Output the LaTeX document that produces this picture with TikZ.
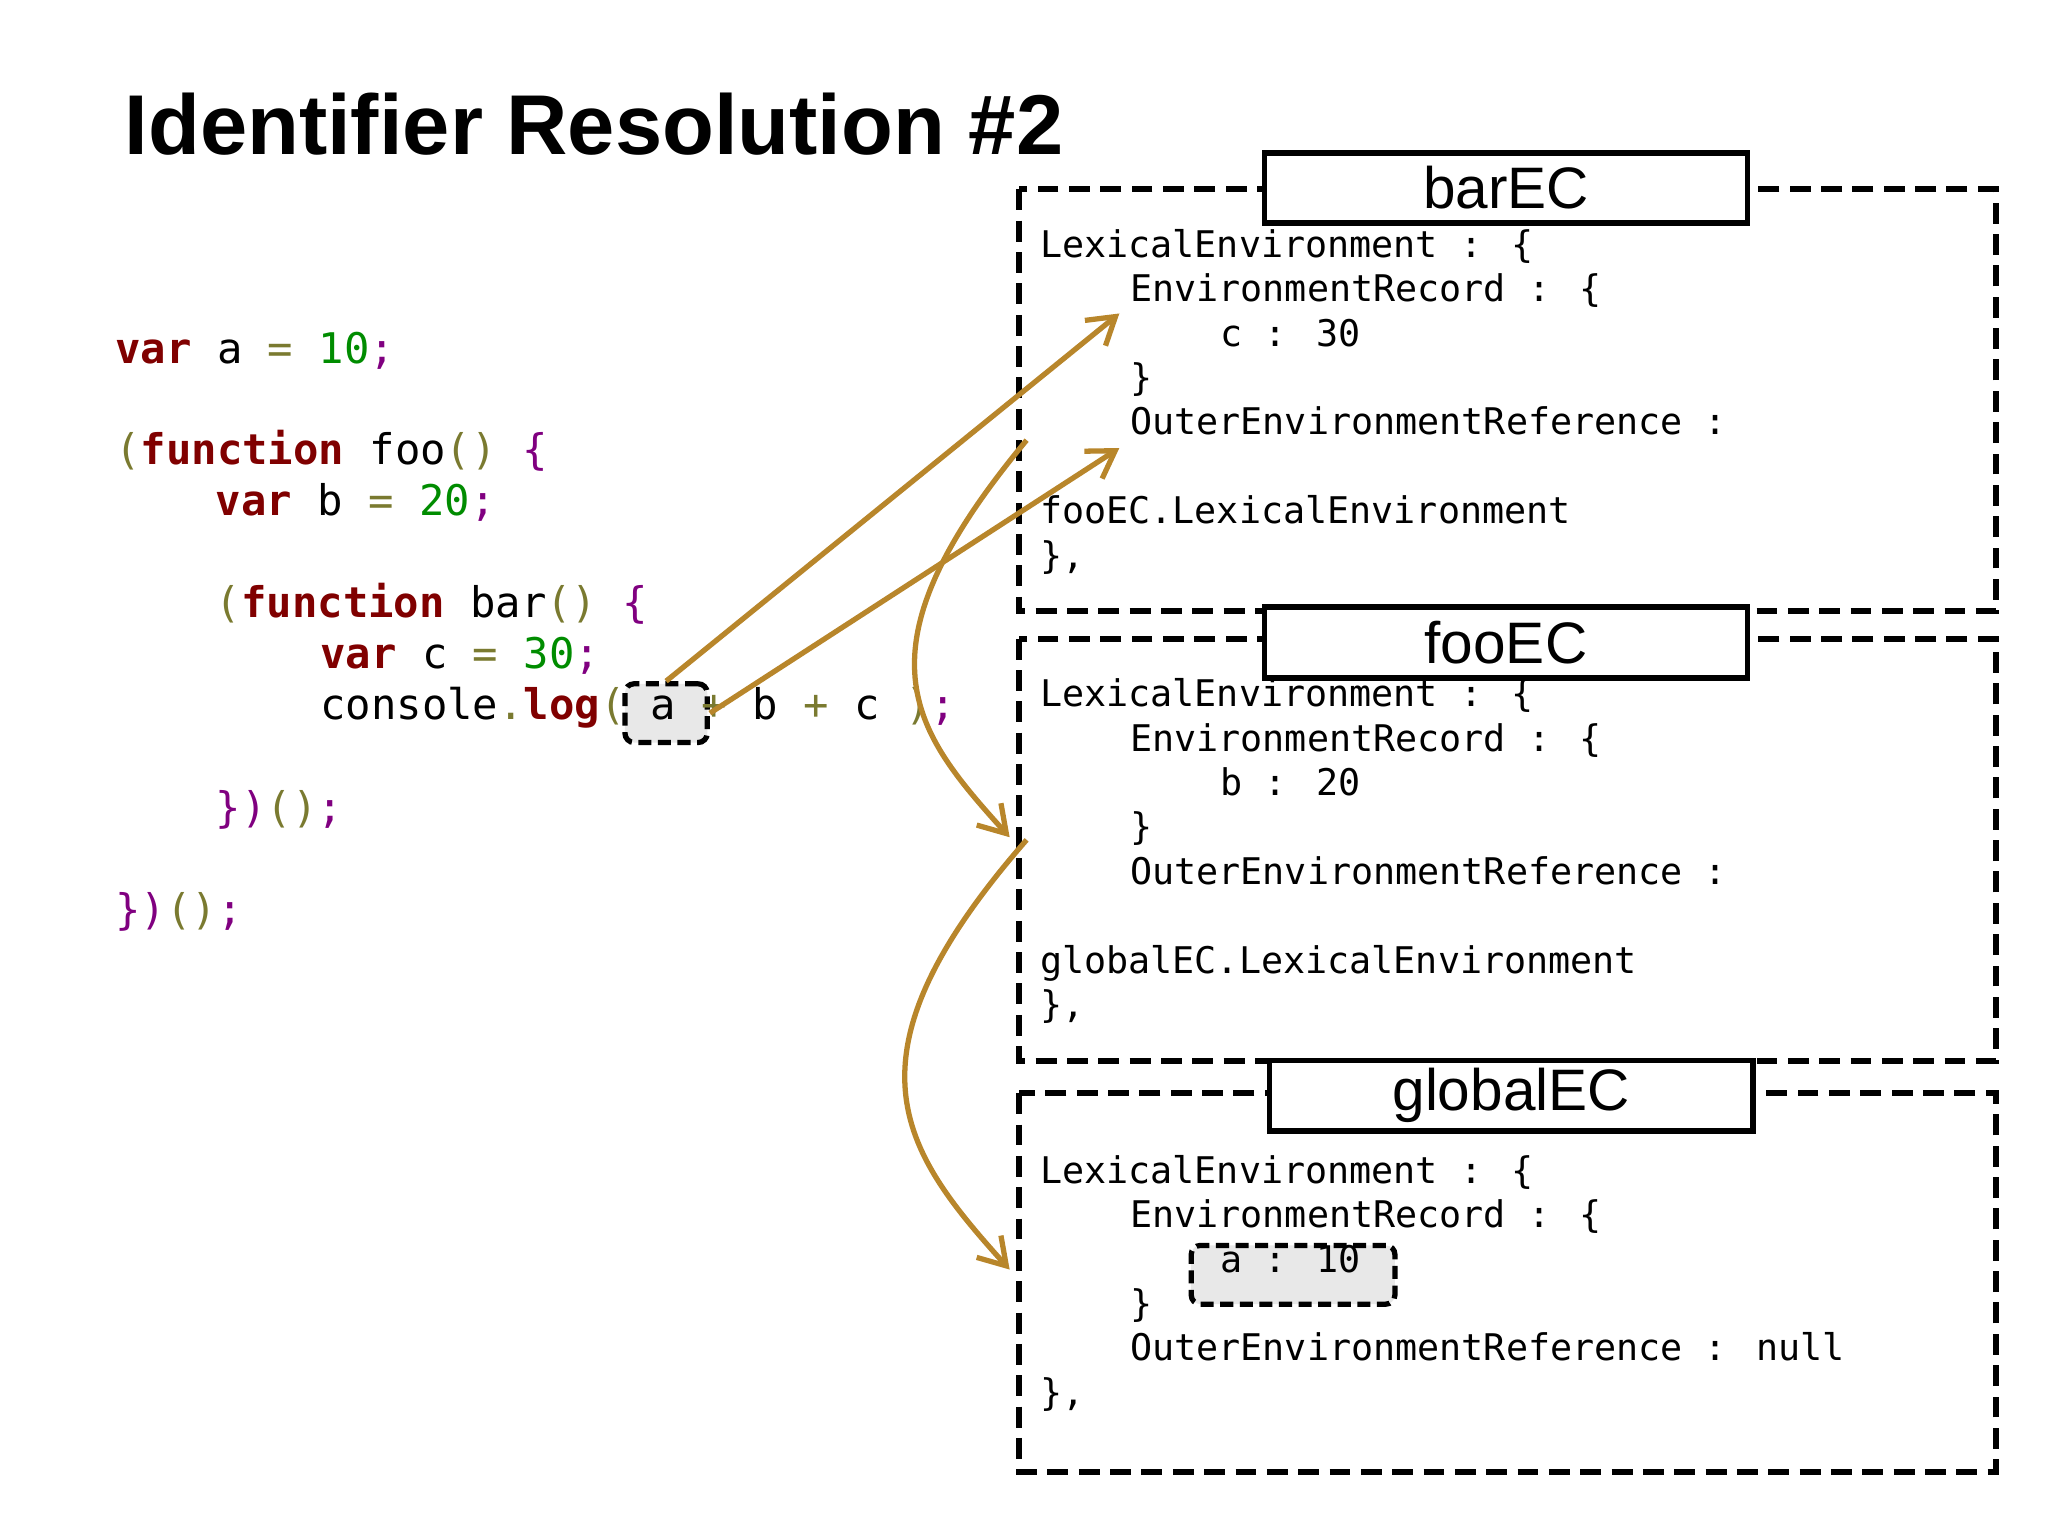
\documentclass[tikz,border=0pt]{standalone}
\usepackage{fontspec}
\setmainfont{Liberation Sans}
\newfontfamily\codefont{DejaVu Sans Mono}
\usetikzlibrary{arrows.meta}
\definecolor{kwc}{HTML}{800000}
\definecolor{numc}{HTML}{008C00}
\definecolor{puc}{HTML}{7A7A30}
\definecolor{brc}{HTML}{800080}
\definecolor{arc}{HTML}{B8862B}
\newcommand{\kw}[1]{\textcolor{kwc}{\bfseries #1}}
\newcommand{\nm}[1]{\textcolor{numc}{#1}}
\newcommand{\pu}[1]{\textcolor{puc}{#1}}
\newcommand{\br}[1]{\textcolor{brc}{#1}}
\begin{document}
\begin{tikzpicture}[x=0.02cm,y=-0.02cm,
  code/.style={anchor=base west,inner sep=0,font=\codefont\fontsize{18.4}{20}\selectfont},
  env/.style={anchor=base west,inner sep=0,font=\codefont\fontsize{16}{18}\selectfont},
  dbox/.style={draw,line width=2.6pt,dash pattern=on 0.32cm off 0.16cm},
  lbl/.style={draw,line width=2.5pt,fill=white,minimum width=7.4cm,minimum height=1.08cm,inner sep=0,font=\fontsize{25.5}{28}\selectfont},
  hl/.style={draw,line width=2.3pt,dash pattern=on 0.2cm off 0.1cm,rounded corners=4pt,fill=gray!18,inner sep=0},
  arr/.style={draw=arc,line width=2.3pt,-{Straight Barb[length=4mm,width=5mm,line width=2.3pt]}}]
\useasboundingbox (0,0) rectangle (1568,1176);
\node[anchor=base west,inner sep=0,font=\bfseries\fontsize{37}{40}\selectfont] (title) at (95,118) {Identifier Resolution \#2};
% highlight boxes
\node[hl,minimum width=1.26cm,minimum height=0.9cm] (abox) at (510,546) {};
\node[hl,minimum width=3.12cm,minimum height=0.9cm] (gbox) at (990,976) {};
% code
\node[code] (c1) at (88,278) {\kw{var} a \pu{=} \nm{10}\br{;}};
\node[code] (c2) at (88,356) {\pu{(}\kw{function} foo\pu{()} \br{\{}};
\node[code] (c3) at (165,395) {\kw{var} b \pu{=} \nm{20}\br{;}};
\node[code] (c4) at (165,473) {\pu{(}\kw{function} bar\pu{()} \br{\{}};
\node[code] (c5) at (245,512) {\kw{var} c \pu{=} \nm{30}\br{;}};
\node[code] (c6) at (245,551) {console\pu{.}\kw{log}\pu{(} a \pu{+} b \pu{+} c \pu{)}\br{;}};
\node[code] (c7) at (165,630) {\br{\})}\pu{()}\br{;}};
\node[code] (c8) at (88,708) {\br{\})}\pu{()}\br{;}};
% env boxes
\draw[dbox] (780,145) rectangle (1528,468);
\draw[dbox] (780,489) rectangle (1528,812);
\draw[dbox] (780,837) rectangle (1528,1127);
\node[lbl] (lbar) at (1153,144) {barEC};
\node[lbl] (lfoo) at (1153,492) {fooEC};
\node[lbl] (lglob) at (1157,839) {globalEC};
% barEC
\node[env] (b1) at (796,197) {LexicalEnvironment : \{};
\node[env] (b2) at (865,231) {EnvironmentRecord : \{};
\node[env] (b3) at (934,265) {c : 30};
\node[env] (b4) at (865,299) {\}};
\node[env] (b5) at (865,333) {OuterEnvironmentReference :};
\node[env] (b6) at (796,401) {fooEC.LexicalEnvironment};
\node[env] (b7) at (796,435) {\},};
% fooEC
\node[env] (f1) at (796,541) {LexicalEnvironment : \{};
\node[env] (f2) at (865,575) {EnvironmentRecord : \{};
\node[env] (f3) at (934,609) {b : 20};
\node[env] (f4) at (865,643) {\}};
\node[env] (f5) at (865,677) {OuterEnvironmentReference :};
\node[env] (f6) at (796,745) {globalEC.LexicalEnvironment};
\node[env] (f7) at (796,779) {\},};
% globalEC
\node[env] (g1) at (796,906) {LexicalEnvironment : \{};
\node[env] (g2) at (865,940) {EnvironmentRecord : \{};
\node[env] (g3) at (934,974) {a : 10};
\node[env] (g4) at (865,1008) {\}};
\node[env] (g5) at (865,1042) {OuterEnvironmentReference : null};
\node[env] (g7) at (796,1076) {\},};
% arrows
\coordinate (t1) at (857,240);
\coordinate (t2) at (857,343);
\coordinate (s3) at (786,337);
\coordinate (t3) at (773,641);
\coordinate (s4) at (786,643);
\coordinate (t4) at (773,972);
\draw[arr] (abox.north) -- (t1);
\draw[arr] (abox.east) -- (t2);
\draw[arr] (s3) .. controls (650,500) and (700,560) .. (t3);
\draw[arr] (s4) .. controls (640,810) and (690,880) .. (t4);
\end{tikzpicture}
\end{document}
